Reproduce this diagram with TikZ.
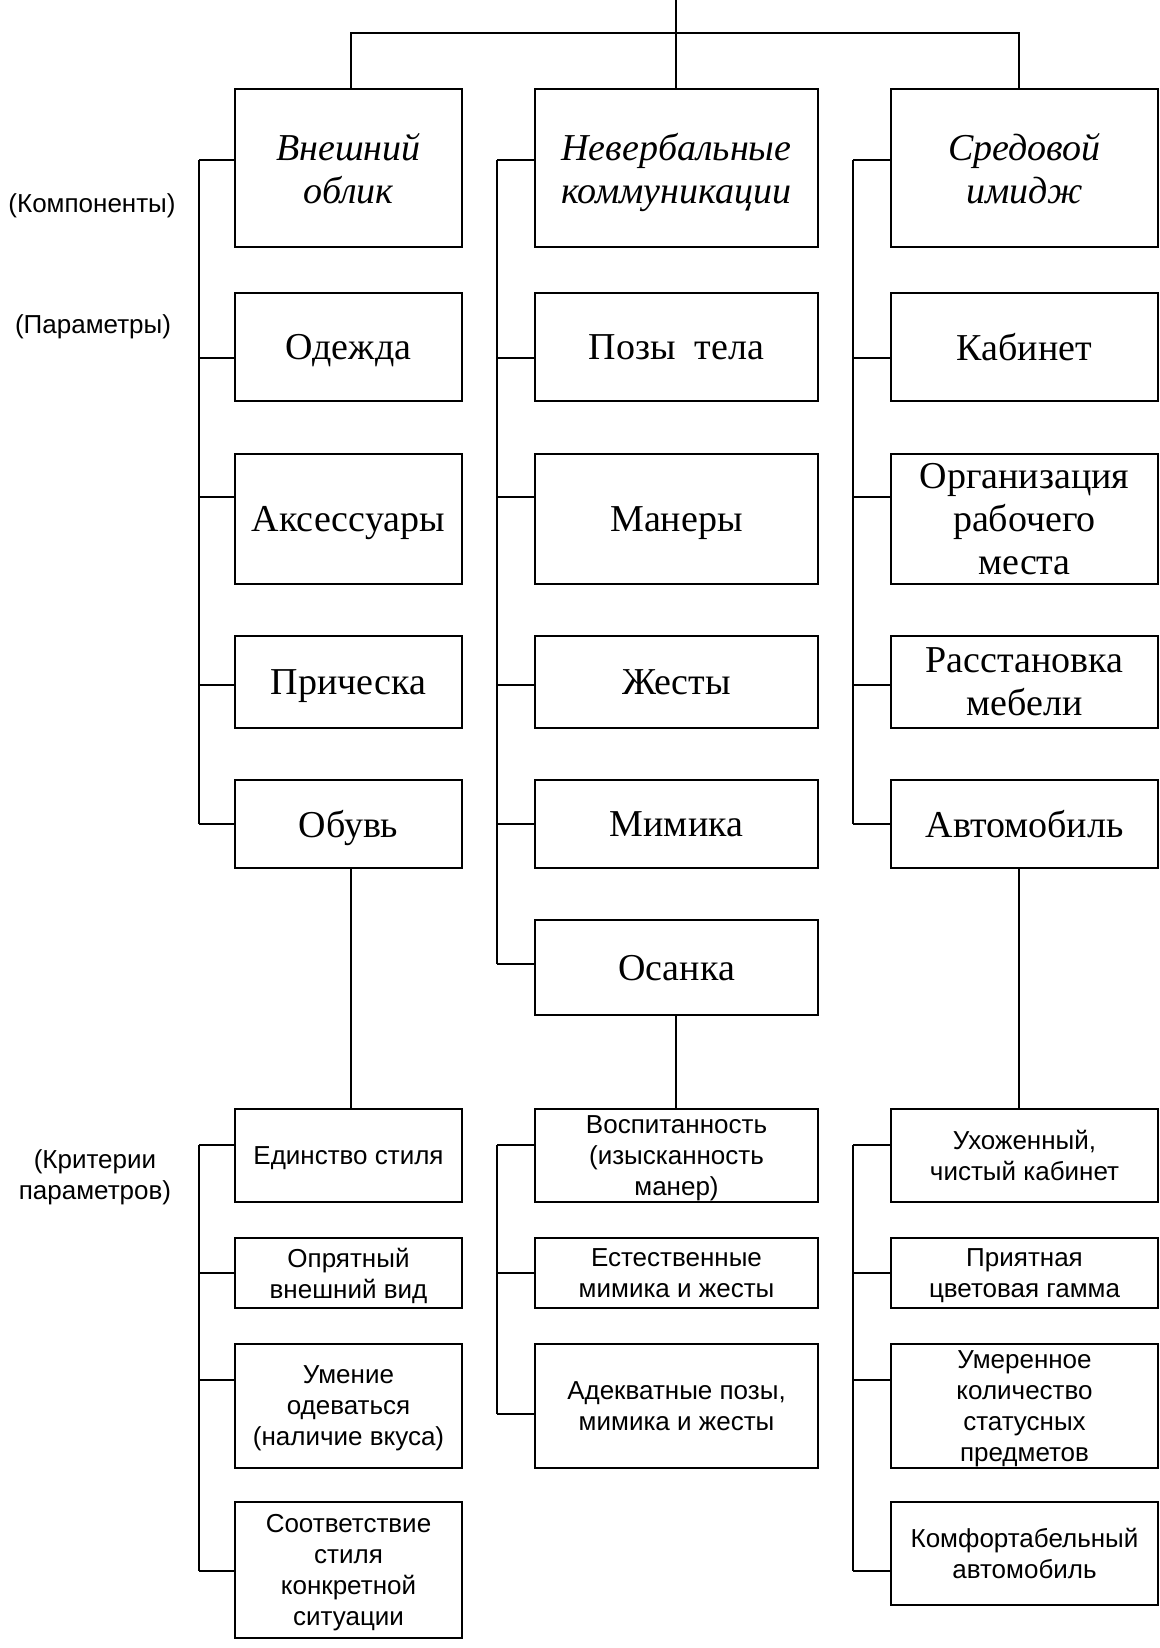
\documentclass[tikz,border=0pt]{standalone}
\usepackage{fontspec}
\setmainfont{Liberation Serif}
\setsansfont{Liberation Sans}

% one pixel of the drawing
\newdimen\px
\px=0.5pt

\tikzset{
  block/.style={draw, line width=1.3pt, inner sep=0pt, align=center, text depth=0pt},
  topbox/.style={block, font=\fontsize{19}{21.5}\selectfont\itshape},
  parambox/.style={block, font=\fontsize{19}{21.5}\selectfont},
  critbox/.style={block, font=\sffamily\fontsize{13}{15.5}\selectfont},
  levellabel/.style={font=\sffamily\fontsize{13}{15.5}\selectfont, align=center},
  link/.style={line width=1.3pt}
}

\begin{document}
\begin{tikzpicture}[x=0.5pt,y=-0.5pt]
    % edges of the columns
      \def\Al{235}
      \def\Ar{462}
      \def\Bl{535}
      \def\Br{818}
      \def\Cl{891}
      \def\Cr{1158}
    % x of the trunk lines
      \def\At{199}
      \def\Bt{497}
      \def\Ct{853}

      \newcommand{\boxat}[7]{%
        \node[#7, minimum width={(#4-#2)*\px}, minimum height={(#5-#3)*\px}]
          (#1) at ({(#2+#4)/2},{(#3+#5)/2}) {#6};
      }

      \newcommand{\sidelink}[3]{%
        \coordinate (#1-j) at (#2,#3);
        \draw[link] (#1-j) -- (#1-j -| #1.west);
      }

      \useasboundingbox (0,0) rectangle (1160,1648);

    % Level labels
      \node[levellabel] (lcomp) at (92,206) {(Компоненты)};
      \node[levellabel] (lpar) at (93,327) {(Параметры)};
      \node[levellabel] (lcrit) at (95,1177) {(Критерии\\параметров)};

    % Components
      \boxat{vnesh}{\Al}{89}{\Ar}{247}{Внешний\\облик}{topbox}
      \boxat{neverb}{\Bl}{89}{\Br}{247}{Невербальные\\коммуникации}{topbox}
      \boxat{sred}{\Cl}{89}{\Cr}{247}{Средовой\\имидж}{topbox}

    % Parameters
      \boxat{odezhda}{\Al}{293}{\Ar}{401}{Одежда}{parambox}
      \boxat{aksess}{\Al}{454}{\Ar}{584}{Аксессуары}{parambox}
      \boxat{prich}{\Al}{636}{\Ar}{728}{Прическа}{parambox}
      \boxat{obuv}{\Al}{780}{\Ar}{868}{Обувь}{parambox}

      \boxat{pozy}{\Bl}{293}{\Br}{401}{Позы\ \ тела}{parambox}
      \boxat{manery}{\Bl}{454}{\Br}{584}{Манеры}{parambox}
      \boxat{zhesty}{\Bl}{636}{\Br}{728}{Жесты}{parambox}
      \boxat{mimika}{\Bl}{780}{\Br}{868}{Мимика}{parambox}
      \boxat{osanka}{\Bl}{920}{\Br}{1015}{Осанка}{parambox}

      \boxat{kabinet}{\Cl}{293}{\Cr}{401}{Кабинет}{parambox}
      \boxat{orgmesta}{\Cl}{454}{\Cr}{584}{Организация\\рабочего\\места}{parambox}
      \boxat{mebel}{\Cl}{636}{\Cr}{728}{Расстановка\\мебели}{parambox}
      \boxat{avto}{\Cl}{780}{\Cr}{868}{Автомобиль}{parambox}

    % Criteria
      \boxat{edinstvo}{\Al}{1109}{\Ar}{1202}{Единство стиля}{critbox}
      \boxat{opryat}{\Al}{1238}{\Ar}{1308}{Опрятный\\внешний вид}{critbox}
      \boxat{umenie}{\Al}{1344}{\Ar}{1468}{Умение\\одеваться\\(наличие вкуса)}{critbox}
      \boxat{sootv}{\Al}{1502}{\Ar}{1638}{Соответствие\\стиля\\конкретной\\ситуации}{critbox}

      \boxat{vospit}{\Bl}{1109}{\Br}{1202}{Воспитанность\\(изысканность\\манер)}{critbox}
      \boxat{estestv}{\Bl}{1238}{\Br}{1308}{Естественные\\мимика и жесты}{critbox}
      \boxat{adekv}{\Bl}{1344}{\Br}{1468}{Адекватные позы,\\мимика и жесты}{critbox}

      \boxat{uhozh}{\Cl}{1109}{\Cr}{1202}{Ухоженный,\\чистый кабинет}{critbox}
      \boxat{priyat}{\Cl}{1238}{\Cr}{1308}{Приятная\\цветовая гамма}{critbox}
      \boxat{umeren}{\Cl}{1344}{\Cr}{1468}{Умеренное\\количество\\статусных\\предметов}{critbox}
      \boxat{komfort}{\Cl}{1502}{\Cr}{1605}{Комфортабельный\\автомобиль}{critbox}

    % Top bus
      \coordinate (root) at (676,0);
      \coordinate (busA) at (351,33);
      \coordinate (busC) at (1019,33);
      \draw[link] (vnesh.north -| busA) -- (busA) -- (busC) -- (sred.north -| busC);
      \draw[link] (root) -- (neverb.north -| root);

    % Side links of the upper part
      \sidelink{vnesh}{\At}{160}
      \sidelink{odezhda}{\At}{358}
      \sidelink{aksess}{\At}{497}
      \sidelink{prich}{\At}{685}
      \sidelink{obuv}{\At}{824}
      \draw[link] (vnesh-j) -- (obuv-j);

      \sidelink{neverb}{\Bt}{160}
      \sidelink{pozy}{\Bt}{358}
      \sidelink{manery}{\Bt}{497}
      \sidelink{zhesty}{\Bt}{685}
      \sidelink{mimika}{\Bt}{824}
      \sidelink{osanka}{\Bt}{964}
      \draw[link] (neverb-j) -- (osanka-j);

      \sidelink{sred}{\Ct}{160}
      \sidelink{kabinet}{\Ct}{358}
      \sidelink{orgmesta}{\Ct}{497}
      \sidelink{mebel}{\Ct}{685}
      \sidelink{avto}{\Ct}{824}
      \draw[link] (sred-j) -- (avto-j);

    % Down to the criteria
      \draw[link] (obuv.south -| busA) -- (edinstvo.north -| busA);
      \draw[link] (osanka.south -| root) -- (vospit.north -| root);
      \draw[link] (avto.south -| busC) -- (uhozh.north -| busC);

    % Side links of the lower part
      \sidelink{edinstvo}{\At}{1145}
      \sidelink{opryat}{\At}{1273}
      \sidelink{umenie}{\At}{1380}
      \sidelink{sootv}{\At}{1571}
      \draw[link] (edinstvo-j) -- (sootv-j);

      \sidelink{vospit}{\Bt}{1145}
      \sidelink{estestv}{\Bt}{1273}
      \sidelink{adekv}{\Bt}{1414}
      \draw[link] (vospit-j) -- (adekv-j);

      \sidelink{uhozh}{\Ct}{1145}
      \sidelink{priyat}{\Ct}{1273}
      \sidelink{umeren}{\Ct}{1380}
      \sidelink{komfort}{\Ct}{1571}
      \draw[link] (uhozh-j) -- (komfort-j);

\end{tikzpicture}
\end{document}
